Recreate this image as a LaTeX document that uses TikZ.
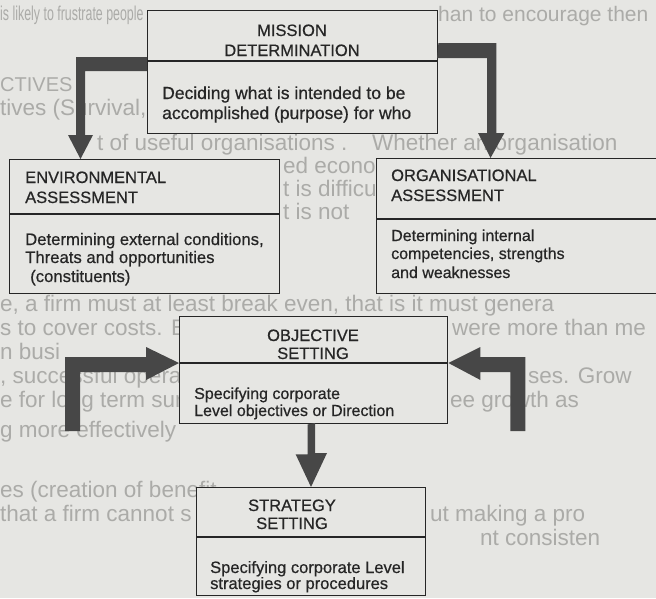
\documentclass[tikz,border=0pt]{standalone}
\usepackage{fontspec}
\setmainfont{Liberation Sans}
\newfontfamily\inkfont{Liberation Sans}[FakeBold=0.6]
\usetikzlibrary{calc}
\definecolor{paper}{HTML}{E6E6E3}
\definecolor{ink}{HTML}{262626}
\definecolor{arrowink}{HTML}{474747}
\definecolor{ghost}{HTML}{ABABA8}

\begin{document}
\begin{tikzpicture}[x=1pt,y=-1pt,
  box/.style={draw=ink, line width=1.4pt, fill=paper, rectangle,
    inner sep=0pt, anchor=north west},
  divider/.style={draw=ink, line width=1.3pt},
  head/.style={inner sep=0pt, text=ink, font=\inkfont\fontsize{16.5}{19}\selectfont},
  body/.style={inner sep=0pt, text=ink, font=\inkfont\fontsize{16}{18}\selectfont},
  backtext/.style={inner sep=0pt, anchor=base west, text=ghost,
    font=\fontsize{22.5}{24}\selectfont},
  fatarrow/.style={fill=arrowink, draw=none}
]
% page
\useasboundingbox (0,0) rectangle (656,598);
\clip (0,0) rectangle (656,598);
\fill[paper] (0,0) rectangle (656,598);

% text of the page underneath, where it shows between the boxes
\node[backtext, font=\fontsize{20}{24}\selectfont] (bg1) at (0,20) {\scalebox{0.62}[1]{is likely to frustrate people}};
\node[backtext, font=\fontsize{21}{24}\selectfont] (bg2) at (438,21) {han to encourage then};
\node[backtext, font=\fontsize{20}{24}\selectfont] (bg3) at (0,91) {CTIVES};
\node[backtext] (bg4)  at (0,115)   {tives (Survival, gro};
\node[backtext] (bg5)  at (97,150)  {t of useful organisations .};
\node[backtext] (bg6)  at (372,150) {Whether an organisation};
\node[backtext] (bg7)  at (283,173) {ed econom};
\node[backtext] (bg9)  at (283,196) {t is difficult};
\node[backtext] (bg10) at (283,219) {t is not};
\node[backtext] (bg12) at (0,311)   {e, a firm must at least break even, that is it must genera};
\node[backtext] (bg13) at (0,335)   {s to cover costs. But};
\node[backtext] (bg13r) at (452,335) {were more than me};
\node[backtext] (bg14) at (0,359)   {n busi};
\node[backtext] (bg15) at (0,383)   {, successful operati};
\node[backtext] (bg15r) at (528,383) {ses. Grow};
\node[backtext] (bg16) at (0,407)   {e for long term surv};
\node[backtext] (bg16r) at (450,407) {ee growth as};
\node[backtext] (bg17) at (0,437)   {g more effectively};
\node[backtext] (bg18) at (0,497)   {es (creation of benefit};
\node[backtext] (bg19) at (0,521)   {that a firm cannot s};
\node[backtext] (bg19r) at (430,521) {ut making a pro};
\node[backtext] (bg20r) at (480,545) {nt consisten};

% boxes
\node[box, minimum width=290pt, minimum height=123pt] (mission)  at (147,10)  {};
\node[box, minimum width=270pt, minimum height=134pt] (env)      at (9,159)   {};
\node[box, minimum width=320pt, minimum height=135pt] (org)      at (376,158) {};
\node[box, minimum width=268pt, minimum height=107pt] (obj)      at (179,316) {};
\node[box, minimum width=229pt, minimum height=108pt] (strategy) at (196,487) {};

% box dividers
\draw[divider] ($(mission.north west)+(0,51)$)  -- ($(mission.north east)+(0,51)$);
\draw[divider] ($(env.north west)+(0,55)$)      -- ($(env.north east)+(0,55)$);
\draw[divider] ($(org.north west)+(0,61)$)      -- ($(org.north east)+(0,61)$);
\draw[divider] ($(obj.north west)+(0,47)$)      -- ($(obj.north east)+(0,47)$);
\draw[divider] ($(strategy.north west)+(0,50)$) -- ($(strategy.north east)+(0,50)$);

% mission
\node[head, anchor=base] (m1) at (292,36) {MISSION};
\node[head, anchor=base] (m2) at (292,56) {DETERMINATION};
\node[body, font=\inkfont\fontsize{17.5}{20}\selectfont, anchor=base west] (m3) at (162,99)  {Deciding what is intended to be};
\node[body, font=\inkfont\fontsize{17.5}{20}\selectfont, anchor=base west] (m4) at (162,119) {accomplished (purpose) for who};

% environmental assessment
\node[head, anchor=base west] (e1) at (25,183) {ENVIRONMENTAL};
\node[head, anchor=base west] (e2) at (25,203) {ASSESSMENT};
\node[body, font=\inkfont\fontsize{16.7}{18}\selectfont, anchor=base west] (e3) at (25,245) {Determining external conditions,};
\node[body, font=\inkfont\fontsize{16.7}{18}\selectfont, anchor=base west] (e4) at (25,263) {Threats and opportunities};
\node[body, font=\inkfont\fontsize{16.7}{18}\selectfont, anchor=base west] (e5) at (30,282) {(constituents)};

% organisational assessment
\node[head, anchor=base west] (o1) at (391,181) {ORGANISATIONAL};
\node[head, anchor=base west] (o2) at (391,201) {ASSESSMENT};
\node[body, anchor=base west] (o3) at (391,241) {Determining internal};
\node[body, anchor=base west] (o4) at (391,259) {competencies, strengths};
\node[body, anchor=base west] (o5) at (391,278) {and weaknesses};

% objective setting
\node[head, anchor=base] (s1) at (313,341) {OBJECTIVE};
\node[head, anchor=base] (s2) at (313,359) {SETTING};
\node[body, anchor=base west] (s3) at (194,399) {Specifying corporate};
\node[body, anchor=base west] (s4) at (194,416) {Level objectives or Direction};

% strategy setting
\node[head, anchor=base] (t1) at (292,511) {STRATEGY};
\node[head, anchor=base] (t2) at (292,529) {SETTING};
\node[body, font=\inkfont\fontsize{16.5}{18}\selectfont, anchor=base west] (t3) at (210,573) {Specifying corporate Level};
\node[body, font=\inkfont\fontsize{16.5}{18}\selectfont, anchor=base west] (t4) at (210,589) {strategies or procedures};

% mission -> environmental assessment
\fill[fatarrow] ($(mission.north west)+(0,47)$) -- ++(-71,0) -- ++(0,78) -- ++(-8,0)
  -- ($(env.north west)+(71.5,0)$) -- ++(12.5,-24) -- ++(-8,0) -- ++(0,-64)
  -- ++(62,0) -- cycle;
% mission -> organisational assessment
\fill[fatarrow] ($(mission.north east)+(0,33)$) -- ++(58,0) -- ++(0,90) -- ++(8,0)
  -- ($(org.north west)+(114.5,0)$) -- ++(-12.5,-25) -- ++(9,0) -- ++(0,-75)
  -- ++(-50,0) -- cycle;
% environmental findings -> objective setting
\fill[fatarrow] ($(obj.north west)+(0,47)$) -- ++(-33,-16) -- ++(0,10) -- ++(-81,0)
  -- ++(0,74) -- ++(15,0) -- ++(0,-59) -- ++(66,0) -- ++(0,8) -- cycle;
% organisational findings -> objective setting
\fill[fatarrow] ($(obj.north east)+(0,47)$) -- ++(32,-16) -- ++(0,10) -- ++(45,0)
  -- ++(0,74) -- ++(-15,0) -- ++(0,-59) -- ++(-30,0) -- ++(0,8) -- cycle;
% objective setting -> strategy setting
\fill[fatarrow] ($(obj.south)+(-6,0)$) -- ++(0,30) -- ++(-12,0)
  -- ($(strategy.north west)+(115,0)$) -- ++(16,-34) -- ++(-12,0) -- ++(0,-30) -- cycle;
\end{tikzpicture}
\end{document}
